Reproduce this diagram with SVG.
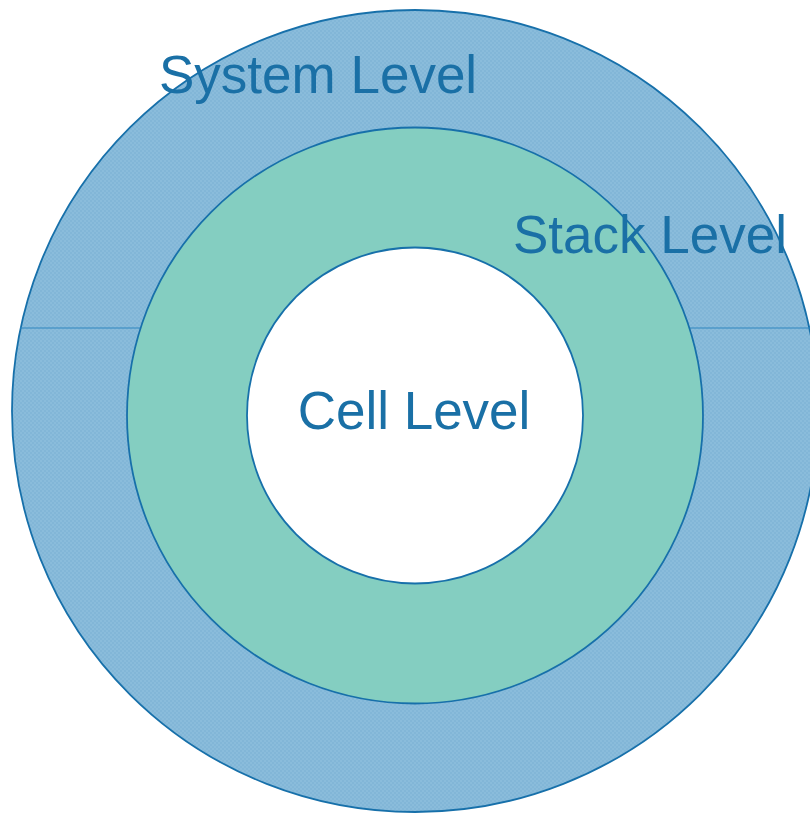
<svg xmlns="http://www.w3.org/2000/svg" width="810" height="814" viewBox="0 0 810 814">
  <style>
    .ring { stroke: #1770aa; stroke-width: 1.8; }
    .label { font-family: "Liberation Sans", Arial, sans-serif; font-size: 53px; fill: #1a70a6; }
    .divider { stroke: #2f86c0; stroke-width: 1.2; fill: none; }
  </style>
  <defs>
    <!-- fine dither used for the outer ring fill -->
    <pattern id="dither" width="4" height="4" patternUnits="userSpaceOnUse">
      <rect width="4" height="4" fill="#82b6d7"/>
      <rect width="2" height="2" fill="#8abcdb"/>
      <rect x="2" y="2" width="2" height="2" fill="#8abcdb"/>
    </pattern>
  </defs>
  <rect width="810" height="814" fill="#ffffff"/>

  <g id="system-level">
    <ellipse class="ring" cx="415" cy="411" rx="403" ry="401" fill="url(#dither)"/>
  </g>

  <g id="connectors">
    <line class="divider" x1="20" y1="328" x2="140" y2="328"/>
    <line class="divider" x1="690" y1="328" x2="810" y2="328"/>
  </g>

  <g id="stack-level">
    <circle class="ring" cx="415" cy="415.5" r="288" fill="#84cec1"/>
  </g>

  <g id="cell-level">
    <circle class="ring" cx="415" cy="415.5" r="168" fill="#ffffff"/>
  </g>

  <text class="label" x="159" y="93">System Level</text>
  <text class="label" x="513" y="253">Stack Level</text>
  <text class="label" x="414" y="429" text-anchor="middle">Cell Level</text>
</svg>
